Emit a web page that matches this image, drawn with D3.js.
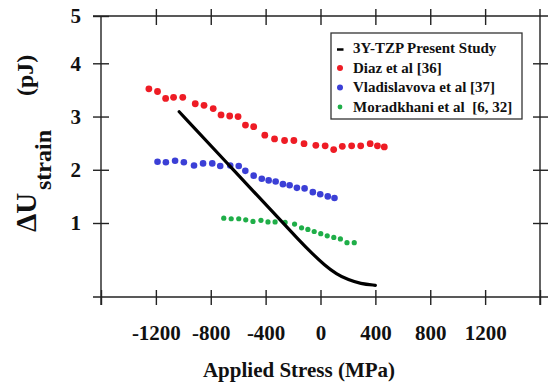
<!DOCTYPE html>
<html>
<head>
<meta charset="utf-8">
<script src="https://cdn.jsdelivr.net/npm/d3@7"></script>
<style>
  body { margin: 0; background: #fff; }
  svg text { font-family: "Liberation Serif", "Times New Roman", serif; font-weight: bold; fill: #111; }
</style>
</head>
<body>
<div id="chart"></div>
<script>
// 3Y-TZP present study (line)
const presentX = [-1030, -650, -320, -150, -58, 29, 116, 204, 291, 400];
const presentY = [3.09, 2.04, 1.13, 0.66, 0.42, 0.21, 0.04, -0.07, -0.14, -0.17];

// Diaz et al [36]
const diazX = [-1251, -1188, -1129, -1071, -1004, -913, -849, -782, -725, -662, -601, -547, -487, -406,
  -335, -262, -194, -120, -34, 34, 96, 159, 227, 293, 362, 415, 465];
const diazY = [3.52, 3.47, 3.34, 3.36, 3.36, 3.24, 3.21, 3.15, 3.03, 3.01, 3.00, 2.84, 2.81, 2.65,
  2.58, 2.55, 2.55, 2.49, 2.46, 2.45, 2.38, 2.44, 2.45, 2.45, 2.49, 2.45, 2.43];

// Vladislavova et al [37]
const vladX = [-1188, -1127, -1060, -996, -922, -856, -789, -731, -658, -596, -548, -487, -428, -378,
  -327, -274, -225, -172, -116, -56, -2, 53, 102];
const vladY = [2.15, 2.14, 2.17, 2.14, 2.08, 2.12, 2.12, 2.07, 2.08, 2.07, 1.98, 1.89, 1.83, 1.80,
  1.78, 1.73, 1.71, 1.66, 1.65, 1.58, 1.54, 1.50, 1.47];

// Moradkhani et al [6, 32]
const moradX = [-705, -651, -596, -545, -492, -434, -383, -331, -258, -189, -138, -92, -46, 2, 49, 97, 145, 193, 246];
const moradY = [1.09, 1.08, 1.08, 1.06, 1.03, 1.05, 1.02, 1.02, 1.01, 0.98, 0.91, 0.88, 0.84, 0.80, 0.76, 0.73, 0.70, 0.63, 0.63];

const xTickValues = [-1600, -1200, -800, -400, 0, 400, 800, 1200, 1600];
const yTickValues = [1, 2, 3, 4, 5];
const legendLabels = ['3Y-TZP Present Study', 'Diaz et al [36]', 'Vladislavova et al [37]', 'Moradkhani et al  [6, 32]'];

const width = 548, height = 388;
const svg = d3.select('#chart').append('svg')
    .attr('width', width)
    .attr('height', height);

const x = d3.scaleLinear().domain([-1600, 1600]).range([101, 540]);
const y = d3.scaleLinear().domain([-0.39, 4, 5]).range([297, 63.3, 16]);

const axisColor = '#222';

// frame lines
const frame = svg.append('g').attr('stroke', axisColor).attr('stroke-width', 1.4);
frame.append('line').attr('x1', x(-1600) - 8).attr('x2', width).attr('y1', y(5)).attr('y2', y(5));
frame.append('line').attr('x1', x(-1600) - 8).attr('x2', width).attr('y1', y(-0.39)).attr('y2', y(-0.39));
frame.append('line').attr('x1', x(-1600)).attr('x2', x(-1600)).attr('y1', y(5)).attr('y2', y(-0.39) + 8);
frame.append('line').attr('x1', x(1600)).attr('x2', x(1600)).attr('y1', y(5) - 7).attr('y2', y(-0.39) + 8);

// bottom axis
const xAxis = svg.append('g')
    .attr('transform', `translate(0,${y(-0.39)})`)
    .call(d3.axisBottom(x).tickValues(xTickValues).tickSizeOuter(0).tickSize(8).tickPadding(22)
        .tickFormat(d => Math.abs(d) === 1600 ? '' : String(d)));
xAxis.select('.domain').remove();
xAxis.selectAll('.tick line').attr('y1', -7).attr('y2', 8).attr('stroke', axisColor).attr('stroke-width', 1.4);
xAxis.selectAll('.tick text').attr('font-size', 21).attr('fill', '#111').attr('dy', '0.6em');

// top ticks
const xTop = svg.append('g')
    .attr('transform', `translate(0,${y(5)})`)
    .call(d3.axisTop(x).tickValues(xTickValues.slice(1, -1)).tickSizeOuter(0).tickFormat(''));
xTop.select('.domain').remove();
xTop.selectAll('.tick line').attr('y1', -7).attr('y2', 9).attr('stroke', axisColor).attr('stroke-width', 1.4);

// left axis
const yAxis = svg.append('g')
    .attr('transform', `translate(${x(-1600)},0)`)
    .call(d3.axisLeft(y).tickValues(yTickValues).tickSizeOuter(0).tickSize(8).tickPadding(12).tickFormat(d3.format('d')));
yAxis.select('.domain').remove();
yAxis.selectAll('.tick line').attr('x1', -8).attr('x2', 8).attr('stroke', axisColor).attr('stroke-width', 1.4);
yAxis.selectAll('.tick text').attr('font-size', 21).attr('fill', '#111');

// right ticks
const yRight = svg.append('g')
    .attr('transform', `translate(${x(1600)},0)`)
    .call(d3.axisRight(y).tickValues(yTickValues.slice(0, 4)).tickSizeOuter(0).tickFormat(''));
yRight.select('.domain').remove();
yRight.selectAll('.tick line').attr('x1', -7).attr('x2', 8).attr('stroke', axisColor).attr('stroke-width', 1.4);

// scatter series
function drawDots(xs, ys, color, r) {
    svg.append('g').selectAll('circle')
        .data(xs.map((v, i) => [v, ys[i]]))
        .join('circle')
        .attr('cx', d => x(d[0]))
        .attr('cy', d => y(d[1]))
        .attr('r', r)
        .attr('fill', color);
}
const red = '#ee1c25', blue = '#3b3fd6', green = '#1fae48';
drawDots(diazX, diazY, red, 3.4);
drawDots(vladX, vladY, blue, 3.3);
drawDots(moradX, moradY, green, 2.6);

// present study line
const line = d3.line()
    .x(d => x(d[0]))
    .y(d => y(d[1]))
    .curve(d3.curveBasis);
svg.append('path')
    .datum(presentX.map((v, i) => [v, presentY[i]]))
    .attr('d', line)
    .attr('fill', 'none')
    .attr('stroke', '#000')
    .attr('stroke-width', 3.2)
    .attr('stroke-linecap', 'round');

// axis titles
svg.append('text')
    .attr('x', 299).attr('y', 377)
    .attr('text-anchor', 'middle')
    .attr('font-size', 21)
    .text('Applied Stress (MPa)');

svg.append('text')
    .attr('transform', 'translate(36,232) rotate(-90)')
    .attr('font-size', 29)
    .text('ΔU');
svg.append('text')
    .attr('transform', 'translate(51,190) rotate(-90)')
    .attr('font-size', 24)
    .text('strain');
svg.append('text')
    .attr('transform', 'translate(33,96) rotate(-90)')
    .attr('font-size', 24)
    .text('(pJ)');

// legend
const legend = svg.append('g');
legend.append('rect')
    .attr('x', 331).attr('y', 33).attr('width', 191).attr('height', 86)
    .attr('fill', '#fff').attr('stroke', '#333').attr('stroke-width', 1.3);
const legendColors = ['#000', red, blue, green];
legendLabels.forEach((label, i) => {
    const ly = 53 + i * 19.5;
    if (i === 0) {
        legend.append('line')
            .attr('x1', 337).attr('x2', 343.5).attr('y1', ly - 3.5).attr('y2', ly - 3.5)
            .attr('stroke', '#000').attr('stroke-width', 2.5);
    } else {
        legend.append('circle')
            .attr('cx', 340).attr('cy', ly - 4.5)
            .attr('r', i === 3 ? 2.4 : 3)
            .attr('fill', legendColors[i]);
    }
    legend.append('text')
        .attr('x', 353).attr('y', ly)
        .attr('font-size', 15)
        .style('white-space', 'pre')
        .text(label);
});
</script>
</body>
</html>
